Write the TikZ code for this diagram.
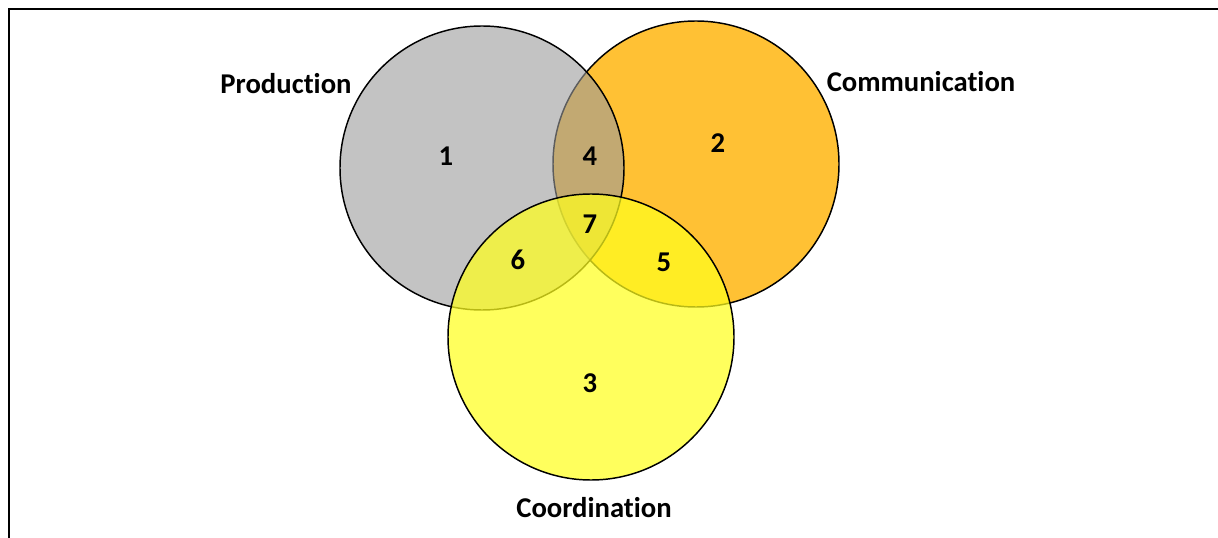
\documentclass[tikz,border=0pt]{standalone}
\usepackage{fontspec}
\setmainfont{Carlito}[Ligatures=NoCommon]
\usetikzlibrary{positioning}

\definecolor{prodgray}{RGB}{155,155,155}
\definecolor{commorange}{RGB}{255,186,30}
\definecolor{coordyellow}{RGB}{255,255,30}

\begin{document}
\begin{tikzpicture}[x=0.75pt,y=-0.75pt,
  setcircle/.style={draw=black,line width=1.1pt},
  setlabel/.style={font=\fontsize{21.5}{24}\selectfont\bfseries},
  region/.style={font=\fontsize{21.5}{24}\selectfont\bfseries}]

\useasboundingbox (0,0) rectangle (1218,538);

% Frame
\draw[][line width=1.6pt] (9,538) -- (9,9) -- (1218,9);

% Circles
\draw[setcircle,fill=commorange,fill opacity=0.9] (696,164) circle (143);
\draw[setcircle,fill=prodgray,fill opacity=0.6] (482,168) circle (142);
\draw[setcircle,fill=coordyellow,fill opacity=0.72] (591,337) circle (143);

% Set names
\node[setlabel] (prod) at (286,84) {Production};
\node[setlabel] (comm) at (921,82) {Communication};
\node[setlabel] (coord) at (594,508) {Coordination};

% Regions
\node[region] (r1) at (446,156) {1};
\node[region] (r2) at (718,143) {2};
\node[region] (r3) at (590,383) {3};
\node[region] (r4) at (590,156) {4};
\node[region] (r5) at (664,262) {5};
\node[region] (r6) at (518,260) {6};
\node[region] (r7) at (590,224) {7};

\end{tikzpicture}
\end{document}
